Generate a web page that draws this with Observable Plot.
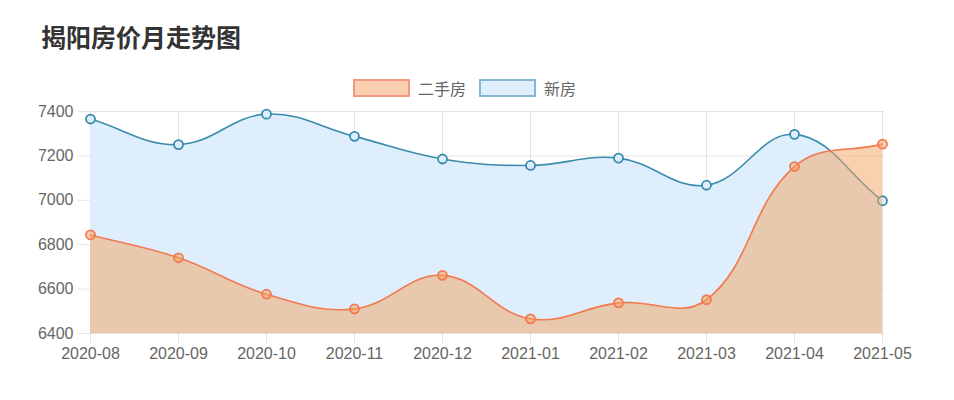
<!DOCTYPE html>
<html>
<head>
<meta charset="utf-8">
<script src="https://cdn.jsdelivr.net/npm/d3@7"></script>
<script src="https://cdn.jsdelivr.net/npm/@observablehq/plot@0.6"></script>
<style>
  html, body { margin: 0; padding: 0; background: #fff; }
  body { width: 954px; height: 400px; overflow: hidden; font-family: "Helvetica Neue", Helvetica, Arial, "Liberation Sans", "Noto Sans CJK SC", sans-serif; }
  #title { height: 70px; box-sizing: border-box; padding: 24px 0 0 41px; font: bold 25px/24px "Noto Sans CJK SC", sans-serif; color: #333; }
  #legend { position: relative; z-index: 1; height: 36px; margin-bottom: -20px; display: flex; align-items: center; padding-left: 353px; font-size: 16px; color: #666; font-family: "Liberation Sans", "Noto Sans CJK SC", sans-serif; }
  .item { display: flex; align-items: center; margin-right: 13px; }
  .box { width: 53px; height: 14px; border: 2px solid; margin-right: 8px; }
  #chart svg { display: block; }
</style>
</head>
<body>
<div id="title">揭阳房价月走势图</div>
<div id="legend"></div>
<div id="chart"></div>
<script>
const months = ["2020-08", "2020-09", "2020-10", "2020-11", "2020-12", "2021-01", "2021-02", "2021-03", "2021-04", "2021-05"];
const seriesNames = ["二手房", "新房"];
const secondHand = [6844, 6741, 6577, 6511, 6662, 6466, 6538, 6552, 7152, 7253];
const newHouse = [7366, 7251, 7388, 7288, 7186, 7157, 7190, 7068, 7297, 6998];
const yTicks = [6400, 6600, 6800, 7000, 7200, 7400];

const colors = {
  secondLine: "#f27a50", secondFill: "#f4a460", secondBox: "#fbd0b0", secondBoxStroke: "#f59a80",
  newLine: "#3a8cab", newFill: "#dfeefd", newBox: "#e1eefc", newBoxStroke: "#85b8d2"
};

// legend
const legend = document.getElementById("legend");
[[seriesNames[0], colors.secondBox, colors.secondBoxStroke], [seriesNames[1], colors.newBox, colors.newBoxStroke]].forEach(([name, f, s]) => {
  const it = document.createElement("div");
  it.className = "item";
  const b = document.createElement("div");
  b.className = "box";
  b.style.background = f;
  b.style.borderColor = s;
  const t = document.createElement("span");
  t.textContent = name;
  it.appendChild(b); it.appendChild(t);
  legend.appendChild(it);
});

const W = 954, H = 314, mL = 88, mR = 70, mT = 25, mB = 67;

// Chart.js-like spline (tension 0.4) with control points capped to chart area
function chartSpline(t, left, right, top, bottom) {
  const cx = v => Math.max(left, Math.min(right, v));
  const cy = v => Math.max(top, Math.min(bottom, v));
  return function(context) {
    let pts = [], line = NaN;
    return {
      areaStart() { line = 0; },
      areaEnd() { line = NaN; },
      lineStart() { pts = []; },
      point(x, y) { pts.push([+x, +y]); },
      lineEnd() {
        const n = pts.length;
        if (n) {
          if (line) context.lineTo(pts[0][0], pts[0][1]); else context.moveTo(pts[0][0], pts[0][1]);
          const cps = pts.map((p, i) => {
            const prev = pts[i - 1] || p, next = pts[i + 1] || p;
            const d01 = Math.hypot(p[0] - prev[0], p[1] - prev[1]);
            const d12 = Math.hypot(next[0] - p[0], next[1] - p[1]);
            let s01 = d01 / (d01 + d12), s12 = d12 / (d01 + d12);
            if (isNaN(s01)) s01 = 0;
            if (isNaN(s12)) s12 = 0;
            const fa = t * s01, fb = t * s12;
            const dx = next[0] - prev[0], dy = next[1] - prev[1];
            return {
              pp: [cx(p[0] - fa * dx), cy(p[1] - fa * dy)],
              np: [cx(p[0] + fb * dx), cy(p[1] + fb * dy)]
            };
          });
          for (let i = 1; i < n; i++) {
            context.bezierCurveTo(cps[i - 1].np[0], cps[i - 1].np[1], cps[i].pp[0], cps[i].pp[1], pts[i][0], pts[i][1]);
          }
        }
        if (line || (line !== 0 && n === 1)) context.closePath();
        line = 1 - line;
      }
    };
  };
}
const curve = chartSpline(0.4, mL, W - mR, mT, H - mB);

const secondData = months.map((m, i) => ({month: m, value: secondHand[i]}));
const newData = months.map((m, i) => ({month: m, value: newHouse[i]}));
const base = yTicks[0];

const chart = Plot.plot({
  width: W, height: H,
  marginLeft: mL, marginRight: mR, marginTop: mT, marginBottom: mB,
  style: {fontFamily: "'Liberation Sans', Arial, sans-serif", fontSize: "16px", background: "transparent"},
  x: {type: "point", domain: months, padding: 0},
  y: {domain: [yTicks[0], yTicks[yTicks.length - 1]]},
  marks: [
    Plot.gridX(months, {stroke: "#000", strokeOpacity: 0.1}),
    Plot.gridY(yTicks, {stroke: "#000", strokeOpacity: 0.1}),
    Plot.axisX({tickSize: 10, tickPadding: 4, stroke: "#000", strokeOpacity: 0.1, fill: "#666", fontSize: 16, label: null}),
    Plot.axisY(yTicks, {tickSize: 10, tickPadding: 5, stroke: "#000", strokeOpacity: 0.1, fill: "#666", fontSize: 16, label: null, tickFormat: d => String(d)}),
    Plot.areaY(newData, {x: "month", y1: () => base, y2: "value", fill: colors.newFill, curve}),
    Plot.line(newData, {x: "month", y: "value", stroke: colors.newLine, strokeWidth: 1.6, curve}),
    Plot.dot(newData, {x: "month", y: "value", r: 4.5, stroke: colors.newLine, strokeWidth: 1.8, fill: colors.newFill}),
    Plot.areaY(secondData, {x: "month", y1: () => base, y2: "value", fill: colors.secondFill, fillOpacity: 0.5, curve}),
    Plot.line(secondData, {x: "month", y: "value", stroke: colors.secondLine, strokeWidth: 1.6, curve}),
    Plot.dot(secondData, {x: "month", y: "value", r: 4.5, stroke: colors.secondLine, strokeWidth: 1.8, fill: colors.secondFill, fillOpacity: 0.5})
  ]
});
document.getElementById("chart").appendChild(chart);
</script>
</body>
</html>
